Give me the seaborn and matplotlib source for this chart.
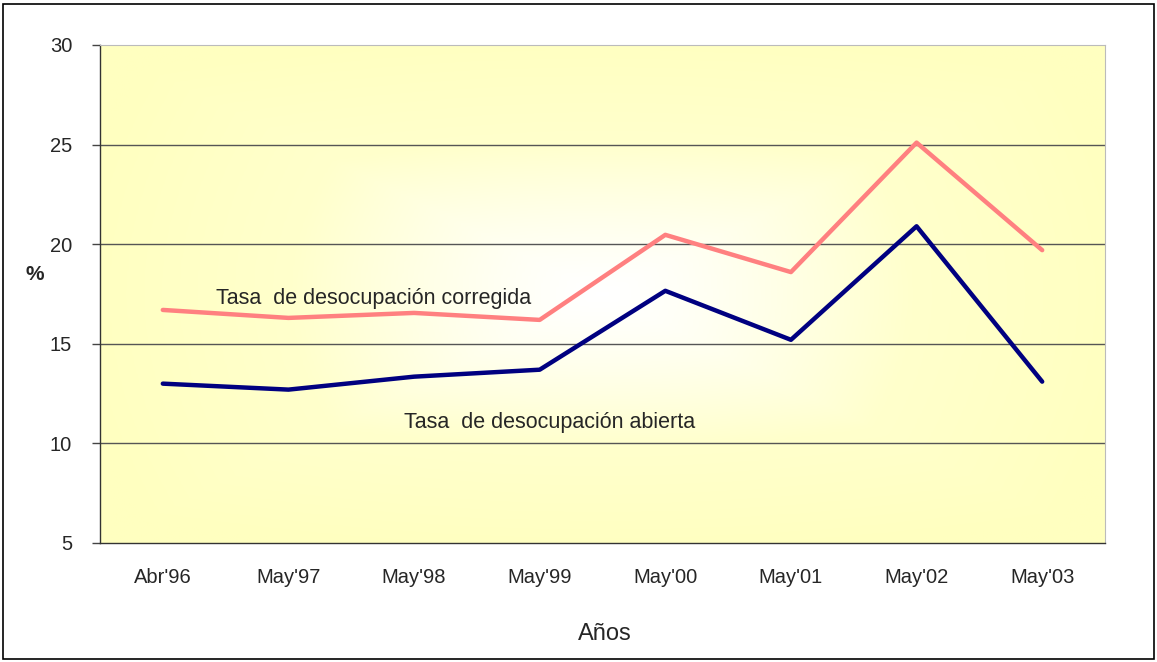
import numpy as np
import pandas as pd
import seaborn as sns
import matplotlib.pyplot as plt
from matplotlib.colors import LinearSegmentedColormap
from matplotlib.patches import Rectangle

periodos = ["Abr'96", "May'97", "May'98", "May'99", "May'00", "May'01", "May'02", "May'03"]
corregida = [16.7, 16.3, 16.55, 16.2, 20.47, 18.6, 25.1, 19.7]
abierta = [13.0, 12.7, 13.35, 13.7, 17.66, 15.2, 20.9, 13.1]
y_ticks = [5, 10, 15, 20, 25, 30]

df = pd.DataFrame({"periodo": periodos * 2,
                   "tasa": corregida + abierta,
                   "serie": ["corregida"] * len(periodos) + ["abierta"] * len(periodos)})

sns.set_theme(style="white")
plt.rcParams['font.family'] = ['Liberation Sans', 'DejaVu Sans']

fig = plt.figure(figsize=(11.57, 6.62), dpi=100)
ax = fig.add_axes([100 / 1157, 1 - 543 / 662, 1005 / 1157, 498 / 662])

# degradado del fondo (blanco al centro, amarillo en los bordes)
gx, gy = np.meshgrid(np.linspace(-1, 1, 400), np.linspace(-1, 1, 300))
t = np.clip(np.maximum(np.abs(gx), np.abs(gy)) * 0.6 + np.hypot(gx, gy) * 0.35, 0, 1) ** 1.3
cmap = LinearSegmentedColormap.from_list("fondo", ["#FFFFFF", "#FFFFCC", "#FFFFC0"])
ax.imshow(t, cmap=cmap, extent=[-0.5, 7.5, 5, 30], aspect='auto', zorder=0,
          interpolation='bilinear')

for v in y_ticks[1:-1]:
    ax.axhline(v, color='#555555', lw=1, zorder=1)

sns.lineplot(data=df, x="periodo", y="tasa", hue="serie",
             palette={"corregida": "#FF8080", "abierta": "#000080"},
             lw=3.2, legend=False, ax=ax, zorder=3, sort=False)

ax.set_xlim(-0.5, 7.5)
ax.set_ylim(5, 30)
ax.set_yticks(y_ticks)
ax.set_yticklabels([str(v) for v in y_ticks], fontsize=14.5)
ax.set_xticks(range(len(periodos)))
ax.set_xticklabels(periodos, fontsize=14.5)
ax.set_xticks(np.arange(-0.5, len(periodos)), minor=True)
ax.tick_params(axis='x', which='major', length=0, pad=18)
ax.tick_params(axis='x', which='minor', length=7, width=1, color='#444444', direction='out')
ax.tick_params(axis='y', length=6, width=1, color='#444444', direction='out', pad=14, left=True)
ax.set_xlabel("")
ax.set_ylabel("")

for s in ['left', 'bottom']:
    ax.spines[s].set_color('#333333')
    ax.spines[s].set_linewidth(1)
for s in ['top', 'right']:
    ax.spines[s].set_color('#BBBBBB')
    ax.spines[s].set_linewidth(0.8)

ax.text(1.68, 17.26, "Tasa  de desocupación corregida", fontsize=15.5, ha='center', va='center', zorder=4)
ax.text(3.08, 11.03, "Tasa  de desocupación abierta", fontsize=15.5, ha='center', va='center', zorder=4)

fig.text(35 / 1157, 1 - 275 / 662, "%", fontsize=15, fontweight='bold', ha='center', va='center')
fig.text(605 / 1157, 1 - 634 / 662, "Años", fontsize=17, ha='center', va='center')

fig.patches.append(Rectangle((3 / 1157, 3 / 662), 1151 / 1157, 655 / 662, transform=fig.transFigure,
                             fill=False, edgecolor='black', lw=1.2))

fig.savefig("out.png", dpi=100)
